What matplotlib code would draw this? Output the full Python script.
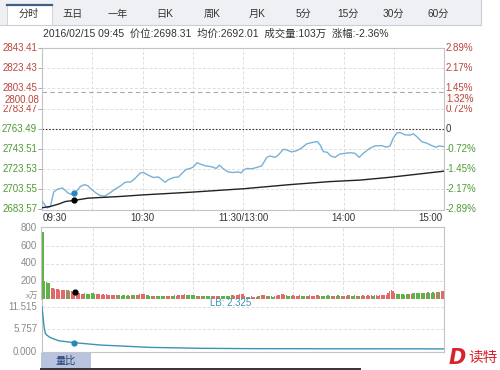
import matplotlib
matplotlib.use("Agg")
import matplotlib.pyplot as plt
from matplotlib.patches import Rectangle
from matplotlib.lines import Line2D

plt.rcParams['font.family'] = ['Liberation Sans', 'Noto Sans CJK SC', 'DejaVu Sans']

# ---------------- data ----------------
tabs = ['分时', '五日', '一年', '日K', '周K', '月K', '5分', '15分', '30分', '60分']
info_text = '2016/02/15 09:45  价位:2698.31  均价:2692.01  成交量:103万  涨幅:-2.36%'
time_ticks = [0, 60, 120, 180, 240]
time_labels = ['09:30', '10:30', '11:30/13:00', '14:00', '15:00']
price_ticks = [2843.41, 2823.43, 2803.45, 2783.47, 2763.49, 2743.51, 2723.53, 2703.55, 2683.57]
pct_labels = ['2.89%', '2.17%', '1.45%', '0.72%', '0', '-0.72%', '-1.45%', '-2.17%', '-2.89%']
prev_close = 2763.49
mark_price = 2800.08
mark_pct = '1.32%'

price_t = [0, 2, 3, 5, 7, 9, 12, 13.5, 15.5, 17.5, 19, 21, 23, 25.5, 27.5, 29.5, 32, 34.5, 37.5,
           40.5, 44, 46.5, 49, 50.5, 53, 55.5, 58.5, 60.5, 63.5, 66.5, 69.5, 71.5, 73.5, 75.5,
           78.5, 81.5, 83.5, 86, 88.5, 90.5, 92.5, 94.5, 97.5, 101.5, 104, 106, 108, 111, 114,
           117, 119, 120.2, 122.2, 125.2, 128.2, 131.2, 134.2, 136.1, 139.1, 141.1, 144.1,
           146.1, 149.1, 152.1, 155, 158, 161, 164.4, 166, 168, 170.3, 172.4, 174.9, 177.9,
           180.9, 183.9, 186.9, 189.4, 191.8, 195.8, 198.8, 202.8, 205.8, 207.8, 209.7, 211.8,
           213.7, 216.7, 219.7, 221.7, 223.7, 226.7, 229.7, 232.7, 235.2, 237.2, 240]
price_v = [2691.9, 2687.5, 2685.2, 2686.5, 2700.8, 2703.5, 2704.9, 2703.2, 2699.9, 2698.5,
           2699.5, 2702.5, 2706.5, 2708.2, 2706.9, 2703.5, 2700.2, 2697.5, 2696.8, 2699.9,
           2704.2, 2706.5, 2709.8, 2710.8, 2710.8, 2714.2, 2719.5, 2720.3, 2717.5, 2715.2,
           2715.8, 2713.2, 2710.5, 2713.2, 2715.2, 2715.8, 2719.2, 2723.2, 2724.2, 2725.8,
           2729.8, 2728.5, 2726.8, 2725.8, 2724.2, 2727.5, 2724.2, 2720.8, 2720.2, 2720.8,
           2719.8, 2722.5, 2724.2, 2723.8, 2725.2, 2726.8, 2735.2, 2736.5, 2735.2, 2737.5,
           2743.2, 2742.5, 2740.5, 2741.8, 2744.5, 2748.5, 2749.8, 2750.8, 2747.5, 2740.8,
           2740.2, 2736.5, 2735.2, 2738.5, 2739.2, 2739.8, 2739.2, 2735.2, 2739.2, 2744.2,
           2746.5, 2746.8, 2745.2, 2746.5, 2754.2, 2759.2, 2759.8, 2757.5, 2757.2, 2758.5,
           2755.8, 2750.8, 2749.2, 2746.8, 2745.2, 2746.5, 2745.8]

avg_t = [0, 5, 10, 14, 19, 27.5, 47, 60, 90, 121, 148, 172, 190, 208, 240]
avg_v = [2685.3, 2686.6, 2689.0, 2691.5, 2692.5, 2694.8, 2696.5, 2698.0, 2700.8, 2704.2,
         2708.2, 2711.2, 2712.7, 2715.5, 2721.5]

mark_t = 19
mark_p = 2699.5
mark_avg = 2692.5

volume = [752, 208, 195, 182, 178, 126, 121, 116, 112, 110,
          106, 104, 102, 100, 98, 96, 92, 88, 84, 78,
          66, 62, 64, 60, 58, 62, 56, 60, 58, 64,
          62, 60, 56, 52, 54, 50, 52, 48, 54, 50,
          46, 44, 48, 42, 46, 40, 44, 38, 42, 40,
          36, 40, 38, 44, 42, 46, 40, 48, 52, 58,
          60, 54, 44, 40, 36, 38, 34, 36, 32, 35,
          33, 30, 34, 36, 32, 38, 34, 30, 36, 40,
          38, 42, 48, 50, 46, 52, 48, 44, 50, 46,
          42, 40, 36, 38, 34, 32, 36, 30, 34, 38,
          36, 32, 34, 30, 36, 38, 34, 32, 30, 34,
          36, 38, 34, 40, 42, 38, 44, 50, 56, 58,
          52, 36, 28, 24, 26, 30, 22, 28, 26, 32,
          38, 44, 50, 46, 36, 32, 34, 30, 28, 32,
          36, 42, 50, 54, 56, 48, 40, 36, 34, 38,
          40, 36, 34, 38, 42, 36, 34, 32, 36, 38,
          40, 38, 34, 36, 40, 42, 38, 36, 34, 38,
          36, 40, 38, 34, 32, 36, 38, 40, 36, 34,
          38, 36, 34, 40, 42, 38, 36, 40, 38, 36,
          34, 38, 40, 36, 38, 42, 36, 40, 38, 44,
          42, 38, 40, 44, 42, 46, 48, 62, 88, 96,
          90, 72, 58, 54, 56, 52, 58, 50, 54, 56,
          52, 60, 64, 68, 62, 70, 66, 72, 68, 64,
          70, 74, 66, 72, 76, 68, 74, 80, 84, 88,
          90]
vol_colors = ("gggggrrrrr" "rrrrrgrrrr" "rrrrrggggg" "ggrrrrrrrr" "rrrrrggggg"
              "ggrrgggrrr" "rrggggrrgg" "ggggrrrrgg" "rrrrrrgggg" "gggrrrgggg"
              "ggrrrrgggg" "ggggrrrrrr" "rrggrrrrrg" "rrrrrggggr" "rrrrrrgggg"
              "rrrrrggggr" "rrrrrrgggg" "ggggrrrggg" "rrrrggggrr" "ggrrrrrrgg"
              "rrrrrrrrrr" "rrgggggggg" "rrgggggggg" "rggggrrgrr" "r")
vol_ticks = [200, 400, 600, 800]
vol_labels = ['200', '400', '600', '800']
vol_unit = 'x万'

lb_t = [0, 0.5, 1, 1.5, 2, 3, 5, 10, 19, 35, 65, 95, 125, 180, 240]
lb_v = [11.515, 9.4, 7.3, 5.7, 4.7, 4.2, 3.6, 2.8, 2.325, 1.7, 1.1, 0.87, 0.78, 0.74, 0.72]
lb_ticks = [0.0, 5.757, 11.515]
lb_labels = ['0.000', '5.757', '11.515']
lb_text = 'LB: 2.325'
button_text = '量比'

# ---------------- layout helpers ----------------
W, H = 500, 370
fig = plt.figure(figsize=(W / 100, H / 100), dpi=100)
fig.patch.set_facecolor('white')


def rect(x0, y0, x1, y1):
    return [x0 / W, 1 - y1 / H, (x1 - x0) / W, (y1 - y0) / H]


RED = '#b8453c'
GREEN = '#4f9a33'
FRAME = '#c4c4c4'
GRID = '#dedede'
LINE_BLUE = '#78b1d6'
DOT_BLUE = '#2a86b8'
LB_COL = '#3b93b6'
FS = 7.0

# ---------------- tab bar ----------------
bg = fig.add_axes([0, 0, 1, 1], zorder=-10)
bg.set_xlim(0, W)
bg.set_ylim(H, 0)
bg.axis('off')
bg.add_patch(Rectangle((0, 0), 481, 24.5, facecolor='#eef0f4', edgecolor='none'))
bg.add_line(Line2D([0, 481], [24.5, 24.5], color='#c9ced8', lw=0.8))
bg.add_line(Line2D([481, 481], [0, 24.5], color='#c9ced8', lw=0.8))
bg.add_patch(Rectangle((7, 4), 45, 21, facecolor='white', edgecolor='#c9ced8', lw=0.6))
bg.add_line(Line2D([7, 52], [4.5, 4.5], color='#3f5f86', lw=1.6))
tab_x = [29, 73, 118, 165, 212, 257, 303, 348, 393, 438]
for t, x in zip(tabs, tab_x):
    bg.text(x, 14, t, ha='center', va='center', fontsize=7.3, color='#333333')

bg.text(43, 33.5, info_text, ha='left', va='center', fontsize=7.5, color='#333333')

# bottom button + dark bar
bg.add_patch(Rectangle((41, 352.5), 50, 16, facecolor='#b7c3df', edgecolor='none'))
bg.text(66, 360.5, button_text, ha='center', va='center', fontsize=7.3, color='#24406e')
bg.add_line(Line2D([41, 360], [369.3, 369.3], color='#333333', lw=1.4))

# watermark
bg.text(457, 358, 'D', ha='center', va='center', fontsize=15, color='#d9232b',
        fontweight='bold', style='italic', family=['DejaVu Sans'])
bg.text(483, 358, '读特', ha='center', va='center', fontsize=10.5, color='#d9232b',
        family=['Noto Sans CJK SC'])

# ---------------- main price panel ----------------
ax = fig.add_axes(rect(42, 48, 444, 209.5))
ax.set_xlim(0, 240)
ax.set_ylim(price_ticks[-1], price_ticks[0])
for s in ax.spines.values():
    s.set_color(FRAME)
    s.set_linewidth(0.8)
ax.set_xticks([])
ax.set_yticks(price_ticks)
ax.set_yticklabels([])
ax.tick_params(axis='y', length=3, color='#999999', width=0.6)
for p in price_ticks[1:-1]:
    if p != prev_close:
        ax.axhline(p, color=GRID, lw=0.7, ls=(0, (3, 2)), zorder=0)
for t in range(30, 240, 30):
    ax.axvline(t, color=GRID, lw=0.7, ls=(0, (3, 2)), zorder=0)
ax.axhline(prev_close, color='#333333', lw=0.8, ls=(0, (1.5, 1.5)), zorder=1)
ax.axhline(mark_price, color='#a8a8a8', lw=0.8, ls=(0, (4, 3)), zorder=1)

ax.plot(price_t, price_v, color=LINE_BLUE, lw=1.0, zorder=3)
ax.plot(avg_t, avg_v, color='#222222', lw=1.0, zorder=3)
ax.plot([mark_t], [mark_p], 'o', color=DOT_BLUE, ms=3.5, zorder=4)
ax.plot([mark_t], [mark_avg], 'o', color='black', ms=3.5, zorder=4)

for p, pl in zip(price_ticks, pct_labels):
    c = RED if p > prev_close else GREEN
    cl = '#333333' if p == prev_close else c
    ax.text(-0.012, p, f'{p:.2f}', transform=ax.get_yaxis_transform(), ha='right',
            va='center', fontsize=FS, color=c)
    ax.text(1.004, p, pl, transform=ax.get_yaxis_transform(), ha='left',
            va='center', fontsize=FS, color=cl)

# marker labels for the dashed 2800.08 line (drawn over the axis labels, as in the reference)
mark_y = 48 + (price_ticks[0] - mark_price) / (price_ticks[0] - price_ticks[-1]) * (209.5 - 48)
fig.text(39 / W, 1 - (mark_y + 8) / H, f'{mark_price:.2f}', ha='right', va='center',
         fontsize=FS, color=RED, zorder=5,
         bbox=dict(facecolor='white', edgecolor='none', pad=0.4))
fig.text(446 / W, 1 - (mark_y + 7.5) / H, mark_pct, ha='left', va='center',
         fontsize=FS, color=RED, zorder=5,
         bbox=dict(facecolor='#f7f7f7', edgecolor='none', pad=0.4))

for t, lab in zip(time_ticks, time_labels):
    ha = 'left' if t == 0 else ('right' if t == 240 else 'center')
    off = 1 if t == 0 else (-2 if t == 240 else 0)
    ax.text(t + off * 0.6, -0.05, lab, transform=ax.get_xaxis_transform(), ha=ha,
            va='center', fontsize=FS, color='#333333')

# ---------------- volume panel ----------------
av = fig.add_axes(rect(41, 227.3, 444, 299))
av.set_xlim(-1.1, 240.5)
av.set_ylim(0, 800 * (299 - 227.3) / (298.5 - 227.5))
for s in av.spines.values():
    s.set_color(FRAME)
    s.set_linewidth(0.8)
av.set_xticks([])
av.set_yticks([])
for v in vol_ticks[:-1]:
    av.axhline(v, color=GRID, lw=0.7, ls=(0, (3, 2)), zorder=0)
for t in range(30, 240, 30):
    av.axvline(t, color=GRID, lw=0.7, ls=(0, (3, 2)), zorder=0)
cols = ['#e06a6a' if c == 'r' else '#62b04a' for c in vol_colors]
av.bar(range(len(volume)), volume, width=0.8, color=cols, linewidth=0, zorder=3)
av.plot([mark_t], [volume[mark_t]], 'o', color='black', ms=3.5, zorder=4)
for v, lab in zip(vol_ticks, vol_labels):
    av.text(-0.01, v, lab, transform=av.get_yaxis_transform(), ha='right',
            va='center', fontsize=FS, color='#8a8a8a')
fig.text(39 / W, 1 - 296 / H, vol_unit, ha='right', va='center',
         fontsize=6.0, color='#8a8a8a')

# ---------------- LB panel ----------------
al = fig.add_axes(rect(42, 299, 444, 351.7))
al.set_xlim(0, 240)
al.set_ylim(0, 11.515 * (351.7 - 299) / (351.7 - 306.7))
for s in al.spines.values():
    s.set_color(FRAME)
    s.set_linewidth(0.8)
al.spines['top'].set_visible(False)
al.set_xticks([])
al.set_yticks([])
for v in lb_ticks[1:]:
    al.axhline(v, color=GRID, lw=0.7, ls=(0, (3, 2)), zorder=0)
al.plot(lb_t, lb_v, color=LB_COL, lw=1.0, zorder=3)
al.plot([mark_t], [2.325], 'o', color=DOT_BLUE, ms=3.5, zorder=4)
for v, lab in zip(lb_ticks, lb_labels):
    al.text(-0.012, v, lab, transform=al.get_yaxis_transform(), ha='right',
            va='center', fontsize=FS, color='#8a8a8a')
al.text(0.418, 0.93, lb_text, transform=al.transAxes, ha='left', va='center',
        fontsize=FS, color=LB_COL)

fig.savefig('out.png', dpi=100, facecolor='white')
